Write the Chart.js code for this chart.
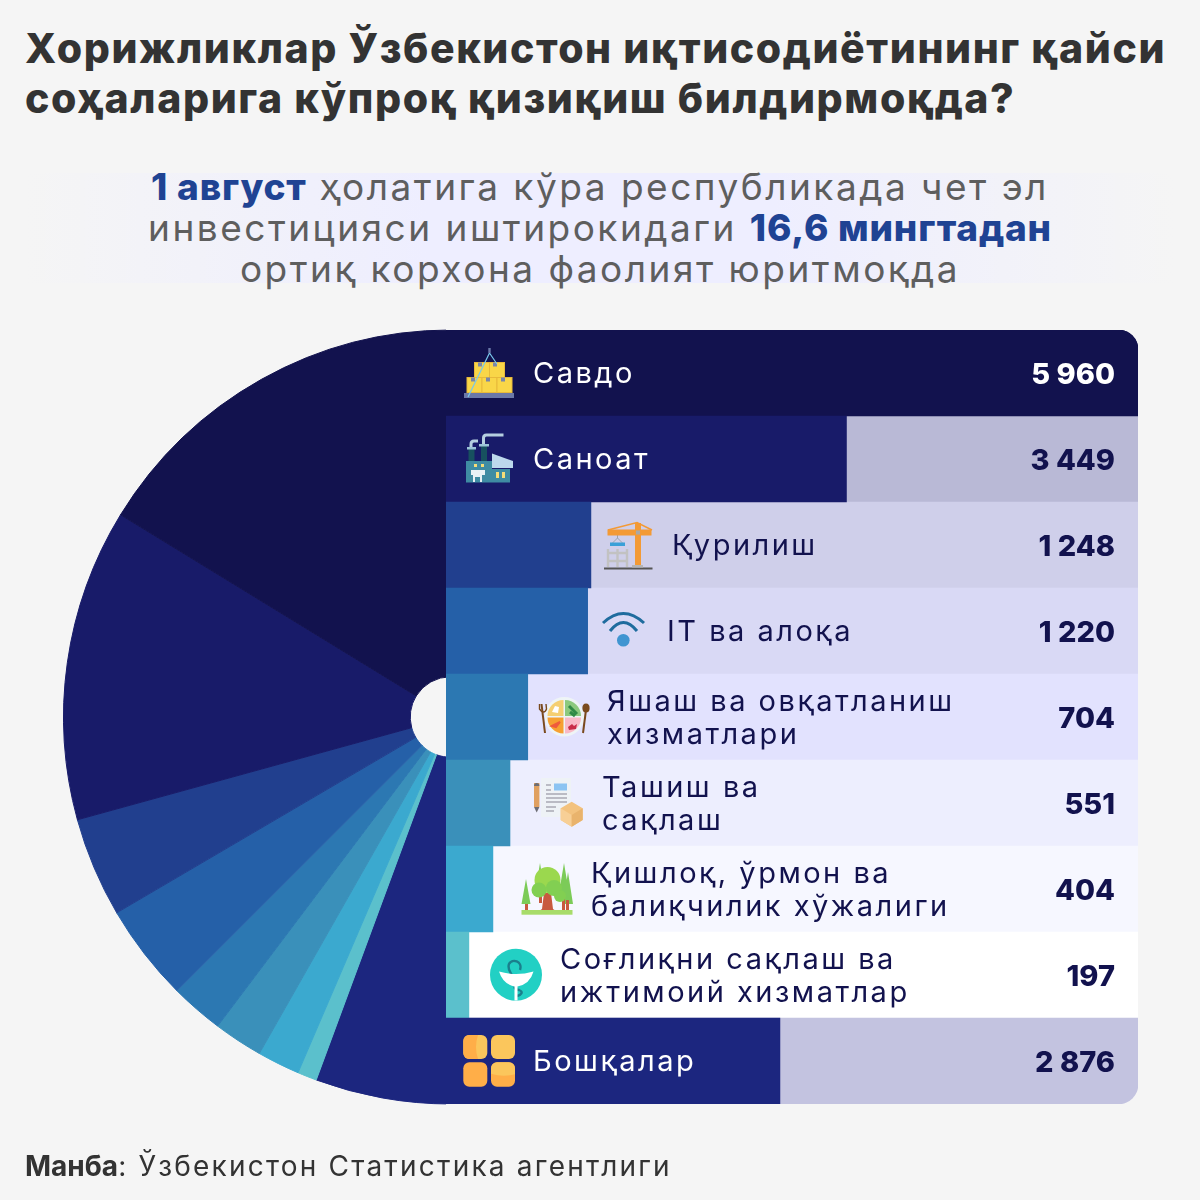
<!DOCTYPE html>
<html lang="uz">
<head>
<meta charset="UTF-8">
<title>Хорижликлар</title>
<script src="https://cdn.jsdelivr.net/npm/chart.js@4/dist/chart.umd.min.js"></script>
<style>
    html, body { margin: 0; padding: 0; background: #f5f5f5; }
    #page { position: relative; width: 1200px; height: 1200px; overflow: hidden; font-family: Inter, "Noto Sans", sans-serif; }
    #page > * { position: absolute; }
    .title { left: 25px; margin: 0; font-size: 41px; font-weight: 800; line-height: 50px; color: #333; white-space: nowrap; letter-spacing: 1.6px; }
    .band { left: 25px; top: 173px; width: 1150px; height: 110px;
        background: linear-gradient(90deg, rgba(236,236,255,0) 0%, #eeeeff 35%, #eeeeff 65%, rgba(236,236,255,0) 100%); }
    .sub { left: 0; width: 1200px; text-align: center; font-size: 37px; line-height: 41px; color: #5e5e5e; white-space: nowrap; letter-spacing: 2.5px; }
    .sub b { color: #1f4393; font-weight: 800; letter-spacing: 0.8px; }
    .source { left: 25px; top: 1149px; font-size: 28px; line-height: 34px; color: #333; white-space: nowrap; letter-spacing: 2.2px; }
    .source b { letter-spacing: 0; }
    #pie { left: 63px; top: 329px; clip-path: inset(0 5px 0 0); }
    #bars { left: 446px; top: 330px; }
    #icons { left: 0; top: 0; }
</style>
</head>
<body>
<div id="page">
    <h1 class="title" style="top:23px">Хорижликлар Ўзбекистон иқтисодиётининг қайси</h1>
    <h1 class="title" style="top:73px">соҳаларига кўпроқ қизиқиш билдирмоқда?</h1>
    <div class="band"></div>
    <div class="sub" style="top:166px"><b>1 август</b> ҳолатига кўра республикада чет эл</div>
    <div class="sub" style="top:207px">инвестицияси иштирокидаги <b>16,6 мингтадан</b></div>
    <div class="sub" style="top:248px">ортиқ корхона фаолият юритмоқда</div>

    <canvas id="pie" width="388" height="776"></canvas>
    <canvas id="bars" width="692" height="774"></canvas>

    <svg id="icons" width="1200" height="1200" viewBox="0 0 1200 1200" fill="none">
        <!-- savdo -->
        <g>
            <rect x="464" y="393" width="50" height="5" fill="#6b78a8"/>
            <g fill="#f9d648" stroke="#e8b93a" stroke-width="1">
                <rect x="467" y="377.5" width="15" height="15"/><rect x="482" y="377.5" width="15" height="15"/><rect x="497" y="377.5" width="15" height="15"/>
                <rect x="474.5" y="362.5" width="15" height="15"/><rect x="489.5" y="362.5" width="15" height="15"/>
            </g>
            <path d="M478 362.5h4v4h-4zM493 362.5h4v4h-4zM486 377.5h4v4h-4zM501 377.5h4v4h-4zM471 377.5h4v4h-4z" fill="#7b86a8"/>
            <path d="M489.5 353L468 397M489.5 353L497 364" stroke="#79c8ec" stroke-width="1.2"/>
            <rect x="488.3" y="348" width="2.4" height="5" fill="#6b78a8"/>
        </g>
        <!-- sanoat -->
        <g>
            <path d="M471 449v-5q0-3 3-3h4M483.5 446v-8q0-3 3-3h17" stroke="#b5cfe0" stroke-width="3"/>
            <rect x="468.5" y="448" width="6" height="13" fill="#17505f"/><rect x="481" y="445" width="6" height="16" fill="#17505f"/>
            <rect x="467" y="447" width="9" height="2.5" fill="#9cc4d8"/><rect x="479" y="444" width="10" height="2.5" fill="#9cc4d8"/>
            <rect x="466" y="461" width="26" height="21.5" fill="#3f8ca3"/><rect x="492" y="469" width="18" height="13.5" fill="#3f8ca3"/>
            <path d="M492 453.5L513 461v7H492z" fill="#bcd8ec"/>
            <path d="M474 464h3v3h-3zM481 464h3v3h-3zM496 472h3v6h-3zM502 472h3v6h-3z" fill="#f5dc78"/>
            <path d="M471 470h14v5h-3v7h-2v-5h-5v5h-2v-7h-2z" fill="#e8f2f6"/>
        </g>
        <!-- qurilish -->
        <g>
            <rect x="604" y="567.5" width="48.5" height="2" fill="#555"/>
            <path d="M608 549v18M627 549v18M617.5 549v18M608 553h19M608 561h19" stroke="#c2c2c2" stroke-width="2.4"/>
            <path d="M617.5 532v6l-5 5M617.5 538l5 5" stroke="#9aa3ad" stroke-width="1"/>
            <rect x="610" y="542.5" width="15" height="3.5" fill="#3aa0d8"/>
            <rect x="635" y="523" width="6" height="42" fill="#f39a35"/>
            <rect x="607.5" y="529.5" width="44" height="6" fill="#f39a35"/>
            <path d="M608 530L637 522.5L652 530" stroke="#f39a35" stroke-width="1.6"/>
            <rect x="632" y="565" width="11" height="2.5" fill="#b5b5b5"/>
            <rect x="636" y="530.5" width="4" height="4" fill="#a8a8a8"/>
        </g>
        <!-- it -->
        <g>
            <path d="M603 623Q623.3 604 644 623M610 631Q623.3 614 637 631" stroke="#1f6c9e" stroke-width="3"/>
            <circle cx="623.3" cy="640.3" r="6.3" fill="#4095d1"/>
        </g>
        <!-- yashash -->
        <g>
            <circle cx="564.3" cy="716.7" r="19.7" fill="#eef4f6"/>
            <path d="M563.5 716V700a16 16 0 0 0-16 16z" fill="#f5cf72"/>
            <path d="M565 716V700a16 16 0 0 1 16 16z" fill="#8cc97e"/>
            <path d="M563.5 717.5H547.5a16 16 0 0 0 16 16z" fill="#f6a031"/>
            <path d="M565 717.5H581a16 16 0 0 1-16 16z" fill="#f9b9c6"/>
            <path d="M569 706l8 8M570 712l5 4" stroke="#2f8a45" stroke-width="3"/>
            <path d="M552 712l3-6 4 1-1 6z" fill="#fff"/>
            <path d="M552 726l8-4-4 5z" fill="#ef5b3c" stroke="#ef5b3c" stroke-width="2"/>
            <path d="M568 727l4-3 2 2 3-2-1 5-7 1z" fill="#c92c47"/>
            <path d="M541.5 704l3.5 29" stroke="#7a4a1e" stroke-width="2"/>
            <path d="M539.5 704v5q2 3 4 3t3-3l-.5-5" stroke="#7a4a1e" stroke-width="1.4"/>
            <path d="M586 710l-3 23" stroke="#7a4a1e" stroke-width="2"/>
            <ellipse cx="586" cy="708" rx="3.6" ry="4.5" fill="#7a4a1e"/>
        </g>
        <!-- tashish -->
        <g>
            <rect x="541" y="778" width="30" height="39" fill="#eef2f6"/>
            <rect x="554" y="783.5" width="13" height="7" fill="#8cc4f2"/>
            <path d="M546 785h5M546 790h5M546 794h21M546 798h21M546 802h21M546 807h10M546 811h8" stroke="#a9a9b4" stroke-width="1.4"/>
            <rect x="534" y="783" width="5.4" height="24" fill="#e0a060"/>
            <path d="M534 807h5.4l-2.7 5.5z" fill="#6d6d75"/>
            <path d="M534 786a2.7 3 0 0 1 5.4 0z" fill="#6d6d75"/>
            <path d="M560.7 808.3L571.7 801.7 582.7 808.3V820L571.7 826.7 560.7 820z" fill="#f3c27e"/>
            <path d="M560.7 808.3L571.7 815V826.7L560.7 820z" fill="#f7cf96"/>
            <path d="M571.7 815L582.7 808.3V820L571.7 826.7z" fill="#e9b36c"/>
        </g>
        <!-- qishloq -->
        <g>
            <path d="M526 879l-4.5 25h9zM540 863l-5 30h10zM564 863l-5 30h10zM568 872l-5 32h10z" fill="#7ccb58"/>
            <path d="M525 904h3v6h-3zM539 895h3v8h-3zM562 895h3v15h-3zM566 900h3v10h-3z" fill="#c8593f"/>
            <path d="M544 893h7l2 16 3 2h-17l3-2z" fill="#c8593f"/>
            <circle cx="547.5" cy="880" r="13" fill="#9bd84e"/><circle cx="539" cy="890" r="7.5" fill="#82cf52"/><circle cx="554" cy="888" r="8" fill="#82cf52"/><circle cx="560" cy="896" r="6" fill="#82cf52"/>
            <rect x="521.5" y="910" width="51" height="4.7" fill="#a8dc6a"/>
        </g>
        <!-- soglik -->
        <g>
            <circle cx="516" cy="974.7" r="26" fill="#22d0c4"/>
            <path d="M520 970c3-9-8-12-11-6-2 5 2 8 3 12M520 984c-7 2-7 5-1 6 5 2 2 5-2 6" stroke="#1a7f8c" stroke-width="2.4"/>
            <path d="M499 971.5q17 5 34.5 0Q530 984 517.5 986.5V1000.5h-3V986.5Q503 984 499 971.5z" fill="#fff"/>
        </g>
        <!-- boshqa -->
        <g>
            <rect x="463.3" y="1035" width="24" height="24" rx="6" fill="#fbc65c"/>
            <path d="M469 1035a6 6 0 0 0-5.7 6v12a6 6 0 0 0 5.7 6h9q-4-12 0-24z" fill="#ffae48"/>
            <rect x="491" y="1035" width="24" height="24" rx="6" fill="#fbc65c"/>
            <rect x="463.3" y="1062.3" width="24" height="24.4" rx="6" fill="#ffae48"/>
            <rect x="491" y="1062.3" width="24" height="24.4" rx="6" fill="#ffae48"/>
            <path d="M497 1062.3h12a6 6 0 0 1 6 6v6q-12 3-24-.5v-5.5a6 6 0 0 1 6-6z" fill="#fbc65c"/>
        </g>
    </svg>

    <div class="source"><b>Манба</b>: Ўзбекистон Статистика агентлиги</div>
</div>

<script>
    var categories = [
        ['Савдо'],
        ['Саноат'],
        ['Қурилиш'],
        ['IT ва алоқа'],
        ['Яшаш ва овқатланиш', 'хизматлари'],
        ['Ташиш ва', 'сақлаш'],
        ['Қишлоқ, ўрмон ва', 'балиқчилик хўжалиги'],
        ['Соғлиқни сақлаш ва', 'ижтимоий хизматлар'],
        ['Бошқалар']
    ];
    var values = [5960, 3449, 1248, 1220, 704, 551, 404, 197, 2876];
    // the wedges in the picture are not proportional to the bars, so read apart (degrees)
    var pieShares = [58.5, 46.9, 15, 14.6, 8, 7.4, 6.4, 2.9, 20.3];

    var barColors = ['#12124e', '#181b69', '#213f8e', '#2560a8', '#2c78b2', '#3a90ba', '#3ba9cf', '#5bc0cc', '#1c267f'];
    var trackColors = ['#12124e', '#b9b9d6', '#cfcfea', '#d9d9f5', '#e2e2fe', '#edeefe', '#f6f7ff', '#ffffff', '#c3c3e0'];
    var labelLeft = [87, 87, 226, 221, 161, 156, 145, 114, 87];
    var darkRow = [true, true, false, false, false, false, false, false, true];
    var whiteValue = [true, false, false, false, false, false, false, false, false];

    var maxValue = Math.max.apply(null, values);

    new Chart(document.getElementById('pie'), {
        type: 'doughnut',
        data: {
            labels: categories.map(function(c) { return c.join(' '); }).reverse(),
            datasets: [{
                data: pieShares.slice().reverse(),
                backgroundColor: barColors.slice().reverse(),
                borderColor: barColors.slice().reverse(),
                borderWidth: 1
            }]
        },
        options: {
            responsive: false,
            animation: false,
            rotation: 180,
            circumference: 180,
            cutout: '10.4%',
            layout: { padding: 0 },
            plugins: { legend: { display: false }, tooltip: { enabled: false } }
        }
    });

    function formatValue(v) {
        return String(v).replace(/\B(?=(\d{3})+$)/g, ' ');
    }

    var rowText = {
        id: 'rowText',
        afterDatasetsDraw: function(chart) {
            var ctx = chart.ctx;
            var y = chart.scales.y;
            var right = chart.chartArea.right - 23;
            ctx.save();
            ctx.textBaseline = 'middle';
            categories.forEach(function(lines, i) {
                var cy = y.getPixelForValue(i) + 2;
                ctx.textAlign = 'left';
                ctx.font = '400 29px Inter';
                ctx.letterSpacing = '2.5px';
                ctx.fillStyle = darkRow[i] ? '#ffffff' : '#12124e';
                lines.forEach(function(line, k) {
                    // single-line rows sit a pixel higher than the wrapped ones
                    var lineY = cy + (k - (lines.length - 1) / 2) * 33 - (lines.length === 1 ? 1 : 0);
                    ctx.fillText(line, labelLeft[i], lineY);
                });
                ctx.textAlign = 'right';
                ctx.font = '800 29px Inter';
                ctx.letterSpacing = '0px';
                ctx.fillStyle = whiteValue[i] ? '#ffffff' : '#12124e';
                ctx.fillText(formatValue(values[i]), right, cy);
            });
            ctx.restore();
        }
    };

    new Chart(document.getElementById('bars'), {
        type: 'bar',
        data: {
            labels: categories.map(function(c) { return c.join(' '); }),
            datasets: [{
                data: values,
                backgroundColor: barColors,
                order: 1,
                borderRadius: function(c) { return c.dataIndex === 0 ? { topRight: 20 } : 0; },
                borderSkipped: false
            }, {
                data: values.map(function() { return maxValue; }),
                backgroundColor: trackColors,
                order: 2,
                borderRadius: function(c) {
                    if (c.dataIndex === 0) return { topRight: 20 };
                    if (c.dataIndex === values.length - 1) return { bottomRight: 20 };
                    return 0;
                },
                borderSkipped: false
            }]
        },
        options: {
            indexAxis: 'y',
            responsive: false,
            animation: false,
            layout: { padding: 0 },
            grouped: false,
            barPercentage: 1,
            categoryPercentage: 1,
            scales: {
                x: { display: false, min: 0, max: maxValue },
                y: { display: false }
            },
            plugins: { legend: { display: false }, tooltip: { enabled: false } }
        },
        plugins: [rowText]
    });
</script>
</body>
</html>
